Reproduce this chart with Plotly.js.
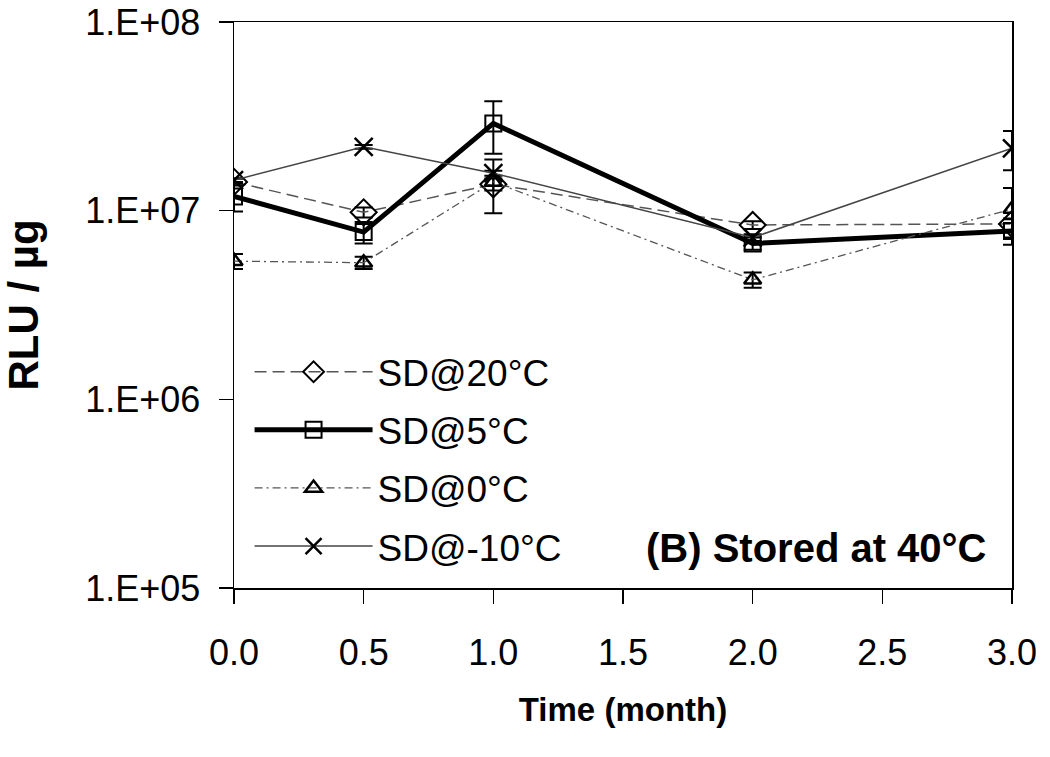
<!DOCTYPE html>
<html>
<head>
<meta charset="utf-8">
<script src="https://cdn.plot.ly/plotly-3.0.1.min.js"></script>
<style>html,body{margin:0;padding:0;background:#fff}#chart{width:1050px;height:757px}</style>
</head>
<body>
<div id="chart"></div>
<script>
const months = [0, 0.5, 1, 2, 3];
const seriesNames = ["SD@20°C", "SD@5°C", "SD@0°C", "SD@-10°C"];
const sd20 = [1.42e7, 9.8e6, 1.38e7, 8.4e6, 8.5e6];
const sd20Err = [0.6e6, 0.6e6, 1.0e6, 0.4e6, 0.6e6];
const sd5 = [1.19e7, 7.7e6, 2.9e7, 6.7e6, 7.8e6];
const sd5Err = [2.0e6, 1.0e6, 0.9e7, 0.5e6, 1.2e6];
const sd0 = [5.4e6, 5.3e6, 1.42e7, 4.3e6, 1.02e7];
const sd0Err = [0.5e6, 0.4e6, 4.5e6, 0.4e6, 3.0e6];
const sdm10 = [1.45e7, 2.18e7, 1.58e7, 7.2e6, 2.14e7];
const sdm10Err = [0.3e6, 0.5e6, 0.5e6, 0.3e6, 5.0e6];
const yTickVals = [1e5, 1e6, 1e7, 1e8];
const yTickText = ["1.E+05", "1.E+06", "1.E+07", "1.E+08"];
const xTickVals = [0, 0.5, 1, 1.5, 2, 2.5, 3];
const xTickText = ["0.0", "0.5", "1.0", "1.5", "2.0", "2.5", "3.0"];

const FONT = "Liberation Sans, Arial, sans-serif";
function err(a){ return {type:'data', array:a, visible:true, color:'#000', thickness:2, width:9}; }

const traces = [
  {x: months, y: sd20, name: seriesNames[0], mode:'lines+markers', legendgroup:'a',
   line:{color:'#555', width:1.5, dash:'12px,6px'},
   marker:{symbol:'diamond-open', size:20, color:'#000', line:{width:2, color:'#000'}},
   error_y: err(sd20Err)},
  {x: months, y: sd5, name: seriesNames[1], mode:'lines+markers', legendgroup:'b',
   line:{color:'#000', width:5},
   marker:{symbol:'square-open', size:16, color:'#000', line:{width:2, color:'#000'}},
   error_y: err(sd5Err)},
  {x: months, y: sd0, name: seriesNames[2], mode:'lines+markers', legendgroup:'c',
   line:{color:'#555', width:1.3, dash:'8px,4px,2px,4px'},
   marker:{symbol:'triangle-up-open', size:15, color:'#000', line:{width:2.5, color:'#000'}},
   error_y: err(sd0Err)},
  {x: months, y: sdm10, name: seriesNames[3], mode:'lines+markers', legendgroup:'d',
   line:{color:'#444', width:1.5},
   marker:{symbol:'x-thin-open', size:18, color:'#000', line:{width:2.5, color:'#000'}},
   error_y: err(sdm10Err)}
];

const layout = {
  width:1050, height:757,
  margin:{l:234, r:38, t:22, b:169},
  paper_bgcolor:'#fff', plot_bgcolor:'#fff',
  font:{family:FONT, color:'#000', size:32},
  showlegend:true,
  legend:{x:0.02, y:0.436, xanchor:'left', yanchor:'top', bgcolor:'rgba(0,0,0,0)',
          font:{family:FONT, size:37, color:'#000'}, tracegroupgap:7, itemwidth:118},
  xaxis:{range:[0,3], tickvals:xTickVals, ticktext:xTickText, ticks:'outside', ticklen:14,
         tickwidth:1.5, tickcolor:'#000', showline:true, linecolor:'#000', linewidth:1.5, mirror:true,
         showgrid:false, zeroline:false, ticklabelstandoff:18,
         tickfont:{family:FONT, size:36, color:'#000'},
         title:{text:'<b>Time (month)</b>', font:{family:FONT, size:33, color:'#000'}, standoff:26}},
  yaxis:{type:'log', range:[5,8], tickvals:yTickVals, ticktext:yTickText, ticks:'outside', ticklen:14,
         tickwidth:1.5, tickcolor:'#000', showline:true, linecolor:'#000', linewidth:1.5, mirror:true,
         showgrid:false, zeroline:false, ticklabelstandoff:11,
         tickfont:{family:FONT, size:36, color:'#000'},
         title:{text:'<b>RLU / µg</b>', font:{family:FONT, size:42, color:'#000'}, standoff:50}},
  annotations:[{xref:'paper', yref:'paper', x:0.97, y:0.07, xanchor:'right', yanchor:'middle',
                text:'<b>(B) Stored at 40°C</b>', showarrow:false, font:{family:FONT, size:40, color:'#000'}}]
};

Plotly.newPlot('chart', traces, layout, {displayModeBar:false, staticPlot:true});
</script>
</body>
</html>
